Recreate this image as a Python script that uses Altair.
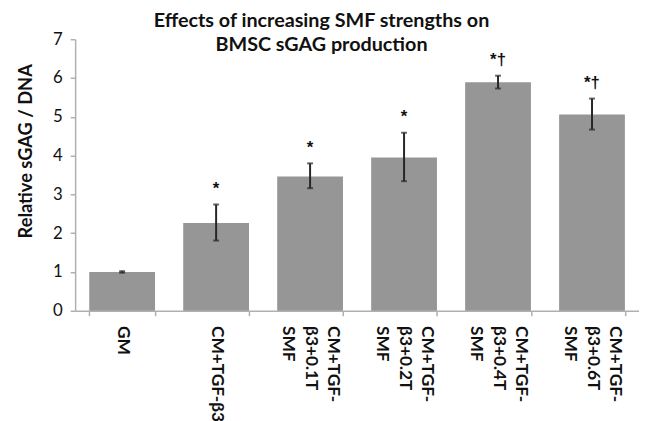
import altair as alt
import pandas as pd

# ---- data ----
groups = ["GM", "CM+TGF-β3", "CM+TGF-|β3+0.1T|SMF", "CM+TGF-|β3+0.2T|SMF",
          "CM+TGF-|β3+0.4T|SMF", "CM+TGF-|β3+0.6T|SMF"]
means = [1.00, 2.26, 3.46, 3.95, 5.89, 5.06]
err_lo = [0.98, 1.81, 3.16, 3.34, 5.73, 4.67]
err_hi = [1.02, 2.74, 3.80, 4.59, 6.06, 5.47]
sig = ["", "*", "*", "*", "*†", "*†"]
y_ticks = [0, 1, 2, 3, 4, 5, 6, 7]

df = pd.DataFrame({"group": groups, "mean": means, "lo": err_lo,
                   "hi": err_hi, "sig": sig})

FONT = "Lato"
AX = "#b0b0b0"
TITLE = "Relative sGAG / DNA"

x_enc = alt.X(
    "group:N", sort=groups,
    scale=alt.Scale(paddingInner=0.3, paddingOuter=0.15),
    axis=alt.Axis(
        title=None, labelAngle=90, labelAlign="left", labelBaseline="middle",
        labelFont=FONT, labelFontSize=17.5, labelFontWeight="bold",
        labelColor="#111111", labelLineHeight=23, labelPadding=10,
        labelExpr="indexof(datum.label, '|') >= 0 ? split(datum.label, '|') : ['', datum.label]",
        labelOverlap=False, labelLimit=0, labelOffset=23,
        tickSize=5, tickColor=AX, domainColor=AX, domainWidth=1.5,
        tickWidth=1.5, tickBand="extent",
    ),
)

y_scale = alt.Scale(domain=[0, 7])
y_axis = alt.Axis(
    title=TITLE, values=y_ticks, grid=False,
    labelFont=FONT, labelFontSize=17, labelColor="#111111",
    labelPadding=8, tickSize=5, tickColor=AX, tickWidth=1.5,
    domainColor=AX, domainWidth=1.5,
    titleFont=FONT, titleFontSize=18.5, titleFontWeight="bold",
    titleColor="#111111", titleAngle=-90, titleX=-50, titleY=113,
    titleAlign="center", titleBaseline="middle",
)

base = alt.Chart(df).encode(x=x_enc)

bars = base.mark_bar(color="#969696").encode(
    y=alt.Y("mean:Q", scale=y_scale, axis=y_axis, title=TITLE)
)
rules = base.mark_rule(color="#262626", strokeWidth=2).encode(
    y=alt.Y("lo:Q", scale=y_scale, axis=y_axis, title=TITLE), y2="hi:Q"
)
cap_lo = base.mark_tick(color="#262626", size=6, thickness=2).encode(
    y=alt.Y("lo:Q", scale=y_scale, axis=y_axis, title=TITLE)
)
cap_hi = base.mark_tick(color="#262626", size=6, thickness=2).encode(
    y=alt.Y("hi:Q", scale=y_scale, axis=y_axis, title=TITLE)
)
stars = base.mark_text(font="Liberation Sans", fontSize=17, fontWeight="bold",
                       baseline="middle", dy=-16, color="#111111").encode(
    y=alt.Y("hi:Q", scale=y_scale, axis=y_axis, title=TITLE), text="sig:N"
)

chart = alt.layer(bars, rules, cap_lo, cap_hi, stars).properties(
    width=571, height=275,
    title=alt.TitleParams(
        text=["Effects of increasing SMF strengths on", "BMSC sGAG production"],
        font=FONT, fontSize=20, fontWeight="bold", color="#111111",
        anchor="middle", frame="group", dx=-36, dy=25, baseline="top",
        lineHeight=24, offset=0,
    ),
    autosize=alt.AutoSizeParams(type="none"),
    padding={"left": 68, "top": 29, "right": 0, "bottom": 109},
).configure_view(stroke=None)

chart.save("out.html", embed_options={"renderer": "svg", "actions": False})
